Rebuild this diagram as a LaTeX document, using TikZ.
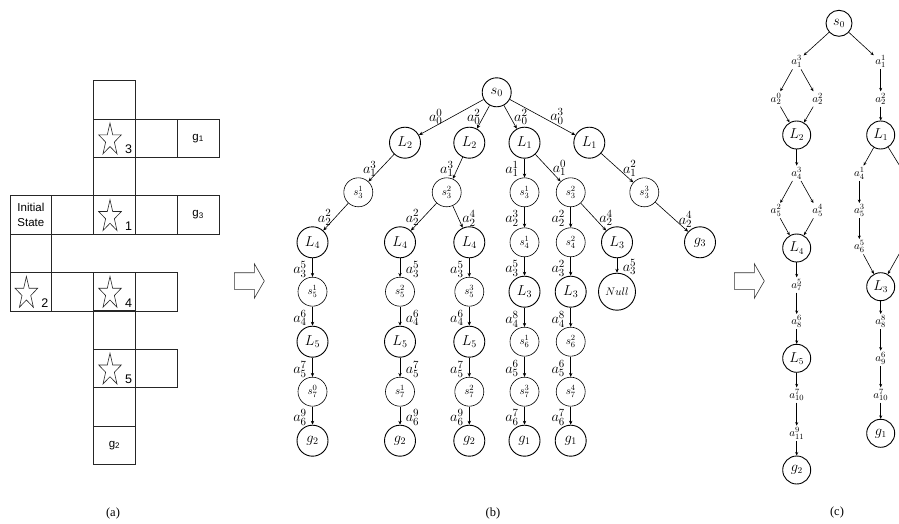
\documentclass[tikz,border=0pt]{standalone}
\usepackage{fontspec}
\newfontfamily\arialfont{Liberation Sans}
\newfontfamily\timesfont{Liberation Serif}
\usetikzlibrary{arrows.meta,positioning}

\begin{document}
\begin{tikzpicture}[x=1pt,y=-1pt,
		cell/.style={draw=black!85,line width=0.8pt,minimum width=41.8pt,minimum height=38.4pt,inner sep=0pt,align=center,font=\arialfont\fontsize{11.5}{15}\selectfont},
		starline/.style={draw=black!85,line width=0.6pt,line join=miter},
		bignode/.style={circle,draw,line width=0.9pt,minimum size=31pt,inner sep=0pt,font=\fontsize{14}{16}\selectfont},
		smallnode/.style={circle,draw,line width=0.6pt,minimum size=29pt,inner sep=0pt,font=\fontsize{11}{13}\selectfont},
		edge/.style={line width=0.6pt,-{Stealth[length=4pt,width=3.4pt]}},
		lab/.style={font=\fontsize{15}{17}\selectfont,inner sep=0.5pt},
		cnode/.style={circle,draw,line width=0.9pt,minimum size=28pt,inner sep=0pt,font=\fontsize{13.5}{15}\selectfont},
		clab/.style={inner sep=1.5pt,font=\fontsize{11}{13}\selectfont},
		carr/.style={line width=0.6pt,-{Stealth[length=3.5pt,width=3pt]}},
		captext/.style={font=\timesfont\fontsize{12.5}{14}\selectfont},
		blockarrow/.style={draw=black!80,line width=0.6pt,line join=miter}]
	\useasboundingbox (0,0) rectangle (899,524);
	\clip (0,0) rectangle (899,524);
	% (a)
	\foreach \c/\r in {2/0,2/1,3/1,2/2,1/3,2/3,3/3,0/4,0/5,1/5,2/5,3/5,2/6,2/7,3/7,2/8}
		\node[cell] (g\c\r) at ({30.9+41.8*\c},{99.9+38.36*\r}) {};
	\node[cell] (g41) at ({30.9+41.8*4},{99.9+38.36*1}) {g\textsubscript{1}};
	\node[cell] (g03) at ({30.9+41.8*0},{99.9+38.36*3}) {Initial\\State};
	\node[cell] (g43) at ({30.9+41.8*4},{99.9+38.36*3}) {g\textsubscript{3}};
	\node[cell] (g29) at ({30.9+41.8*2},{99.9+38.36*9}) {g\textsubscript{2}};
	\foreach \n/\k in {g21/3,g23/1,g05/2,g25/4,g27/5}{
		\draw[starline,shift={(\n)},xshift=-4.5pt,yshift=-1.8pt] (270:11.9 and 17) -- (306:4.6 and 6.5) -- (342:11.9 and 17) -- (18:4.6 and 6.5) -- (54:11.9 and 17) -- (90:4.6 and 6.5) -- (126:11.9 and 17) -- (162:4.6 and 6.5) -- (198:11.9 and 17) -- (234:4.6 and 6.5) -- cycle;
		\node[inner sep=0pt,font=\arialfont\fontsize{12.5}{12}\selectfont] (d\k) at ([shift={(14,11)}]\n) {\k};
	}
	\draw[blockarrow] (234.3,272.7) -- (254.3,272.7) -- (254.3,263.7) -- (264.3,281) -- (254.3,298.3) -- (254.3,289.3) -- (234.3,289.3) -- cycle;
	% (b)
	\node[bignode,minimum size=29pt] (r0) at (496.7,92.3) {$s_0$};
	\node[bignode] (r1a) at (405,142.7) {$L_2$};
	\node[bignode] (r1b) at (469.3,142.7) {$L_2$};
	\node[bignode] (r1c) at (524.5,142.7) {$L_1$};
	\node[bignode] (r1d) at (589.3,142.7) {$L_1$};
	\node[smallnode] (r2a) at (358.3,192.3) {$s^1_3$};
	\node[smallnode] (r2b) at (446.7,192.3) {$s^2_3$};
	\node[smallnode] (r2c) at (524.5,192.3) {$s^1_3$};
	\node[smallnode] (r2d) at (570.7,192.3) {$s^2_3$};
	\node[smallnode] (r2e) at (644.3,192.3) {$s^3_3$};
	\node[bignode] (r3a) at (312.5,242.3) {$L_4$};
	\node[bignode] (r3b) at (400,242.3) {$L_4$};
	\node[bignode] (r3c) at (469.3,242.3) {$L_4$};
	\node[smallnode] (r3d) at (524.5,242.3) {$s^1_4$};
	\node[smallnode] (r3e) at (570.7,242.3) {$s^2_4$};
	\node[bignode] (r3f) at (617,242.3) {$L_3$};
	\node[bignode] (r3g) at (700,242.3) {$g_3$};
	\node[smallnode] (r4a) at (312.5,291.7) {$s^1_5$};
	\node[smallnode] (r4b) at (400,291.7) {$s^2_5$};
	\node[smallnode] (r4c) at (469.3,291.7) {$s^3_5$};
	\node[bignode] (r4d) at (524.5,291.7) {$L_3$};
	\node[bignode] (r4e) at (570.7,291.7) {$L_3$};
	\node[bignode,minimum size=37pt,font=\fontsize{11}{13}\selectfont] (r4f) at (617,291.7) {$Null$};
	\node[bignode] (r5a) at (312.5,341.7) {$L_5$};
	\node[bignode] (r5b) at (400,341.7) {$L_5$};
	\node[bignode] (r5c) at (469.3,341.7) {$L_5$};
	\node[smallnode] (r5d) at (524.5,341.7) {$s^1_6$};
	\node[smallnode] (r5e) at (570.7,341.7) {$s^2_6$};
	\node[smallnode] (r6a) at (312.5,391.7) {$s^0_7$};
	\node[smallnode] (r6b) at (400,391.7) {$s^1_7$};
	\node[smallnode] (r6c) at (469.3,391.7) {$s^2_7$};
	\node[smallnode] (r6d) at (524.5,391.7) {$s^3_7$};
	\node[smallnode] (r6e) at (570.7,391.7) {$s^4_7$};
	\node[bignode] (r7a) at (312.5,440.7) {$g_2$};
	\node[bignode] (r7b) at (400,440.7) {$g_2$};
	\node[bignode] (r7c) at (469.3,440.7) {$g_2$};
	\node[bignode] (r7d) at (524.5,440.7) {$g_1$};
	\node[bignode] (r7e) at (570.7,440.7) {$g_1$};
	\draw[edge] (r0) -- node[lab,above,pos=.74] {$a_0^0$} (r1a);
	\draw[edge] (r0) -- node[lab,left=2pt,pos=.5] {$a_0^2$} (r1b);
	\draw[edge] (r0) -- node[lab,right=3pt,pos=.5] {$a_0^2$} (r1c);
	\draw[edge] (r0) -- node[lab,above,pos=.72] {$a_0^3$} (r1d);
	\draw[edge] (r1a) -- node[lab,left=3pt,pos=.54] {$a_1^3$} (r2a);
	\draw[edge] (r1b) -- node[lab,left=3pt,pos=.54] {$a_1^3$} (r2b);
	\draw[edge] (r1c) -- node[lab,left=5pt,pos=.55] {$a_1^1$} (r2c);
	\draw[edge] (r1c) -- node[lab,right=4pt,pos=.5] {$a_1^0$} (r2d);
	\draw[edge] (r1d) -- node[lab,right=4pt,pos=.53] {$a_1^2$} (r2e);
	\draw[edge] (r2a) -- node[lab,left=3pt,pos=.53] {$a_2^2$} (r3a);
	\draw[edge] (r2b) -- node[lab,left=3pt,pos=.53] {$a_2^2$} (r3b);
	\draw[edge] (r2b) -- node[lab,right=3pt,pos=.57] {$a_2^4$} (r3c);
	\draw[edge] (r2c) -- node[lab,left=5pt,pos=.55] {$a_2^3$} (r3d);
	\draw[edge] (r2d) -- node[lab,left=5pt,pos=.55] {$a_2^2$} (r3e);
	\draw[edge] (r2d) -- node[lab,right=4pt,pos=.54] {$a_2^4$} (r3f);
	\draw[edge] (r2e) -- node[lab,right=3pt,pos=.6] {$a_2^4$} (r3g);
	\foreach \u/\v/\s/\t in {r3a/r4a/left/{a_3^5},r3b/r4b/right/{a_3^5},r3c/r4c/left/{a_3^5},r3d/r4d/left/{a_3^5},r3e/r4e/left/{a_3^2},r3f/r4f/right/{a_3^5},
			r4a/r5a/left/{a_4^6},r4b/r5b/right/{a_4^6},r4c/r5c/left/{a_4^6},r4d/r5d/left/{a_4^8},r4e/r5e/left/{a_4^8},
			r5a/r6a/left/{a_5^7},r5b/r6b/right/{a_5^7},r5c/r6c/left/{a_5^7},r5d/r6d/left/{a_5^6},r5e/r6e/left/{a_5^6},
			r6a/r7a/left/{a_6^9},r6b/r7b/right/{a_6^9},r6c/r7c/left/{a_6^9},r6d/r7d/left/{a_6^7},r6e/r7e/left/{a_6^7}}
		\draw[edge] (\u) -- node[lab,\s=5pt,pos=.6] {$\t$} (\v);
	\draw[blockarrow] (734.3,272.7) -- (754.3,272.7) -- (754.3,263.7) -- (764.3,281) -- (754.3,298.3) -- (754.3,289.3) -- (734.3,289.3) -- cycle;
	% (c)
	\node[cnode,minimum size=26pt] (t0) at (839,23.3) {$s_0$};
	\node[clab] (t1a) at (796.7,61.7) {$a_1^3$};
	\node[clab] (t1b) at (880.7,61.7) {$a_1^1$};
	\node[clab] (t2a) at (776,99) {$a_2^0$};
	\node[clab] (t2b) at (817.7,99) {$a_2^2$};
	\node[clab] (t2c) at (880.7,99) {$a_2^2$};
	\node[cnode] (tL2) at (796.7,135) {$L_2$};
	\node[cnode] (tL1) at (880.7,135) {$L_1$};
	\node[clab] (t4a) at (796.7,173.3) {$a_4^3$};
	\node[clab] (t4b) at (859.3,173.3) {$a_4^1$};
	\node[clab] (t5a) at (776,210.7) {$a_5^2$};
	\node[clab] (t5b) at (817.7,210.7) {$a_5^4$};
	\node[clab] (t5c) at (859.3,210.7) {$a_5^3$};
	\node[cnode] (tL4) at (796.7,248) {$L_4$};
	\node[clab] (t6c) at (859.3,246.7) {$a_6^5$};
	\node[cnode] (tL3) at (880.7,286.7) {$L_3$};
	\node[clab] (t7a) at (796.7,285) {$a_7^5$};
	\node[clab] (t8a) at (796.7,321.7) {$a_8^6$};
	\node[cnode] (tL5) at (796.7,358.3) {$L_5$};
	\node[clab] (t10a) at (796.7,395) {$a_{10}^7$};
	\node[clab] (t11a) at (796.7,433.3) {$a_{11}^9$};
	\node[cnode] (tg2) at (796.7,470) {$g_2$};
	\node[clab] (t8b) at (880.7,321.7) {$a_8^8$};
	\node[clab] (t9b) at (880.7,358.3) {$a_9^6$};
	\node[clab] (t10b) at (880.7,395) {$a_{10}^7$};
	\node[cnode] (tg1) at (880.7,433.3) {$g_1$};
	\coordinate (tout) at (906,176);
	\coordinate (tin) at (907,240);
	\foreach \u/\v in {t0/t1a,t0/t1b,t1a/t2a,t1a/t2b,t1b/t2c,t2a/tL2,t2b/tL2,t2c/tL1,tL2/t4a,tL1/t4b,tL1/tout,
			t4a/t5a,t4a/t5b,t4b/t5c,t5a/tL4,t5b/tL4,t5c/t6c,t6c/tL3,tin/tL3,
			tL4/t7a,t7a/t8a,t8a/tL5,tL5/t10a,t10a/t11a,t11a/tg2,tL3/t8b,t8b/t9b,t9b/t10b,t10b/tg1}
		\draw[carr] (\u) -- (\v);
	\node[captext] (capa) at (113,513) {(a)};
	\node[captext] (capb) at (493,513) {(b)};
	\node[captext] (capc) at (837,512) {(c)};
\end{tikzpicture}
\end{document}
